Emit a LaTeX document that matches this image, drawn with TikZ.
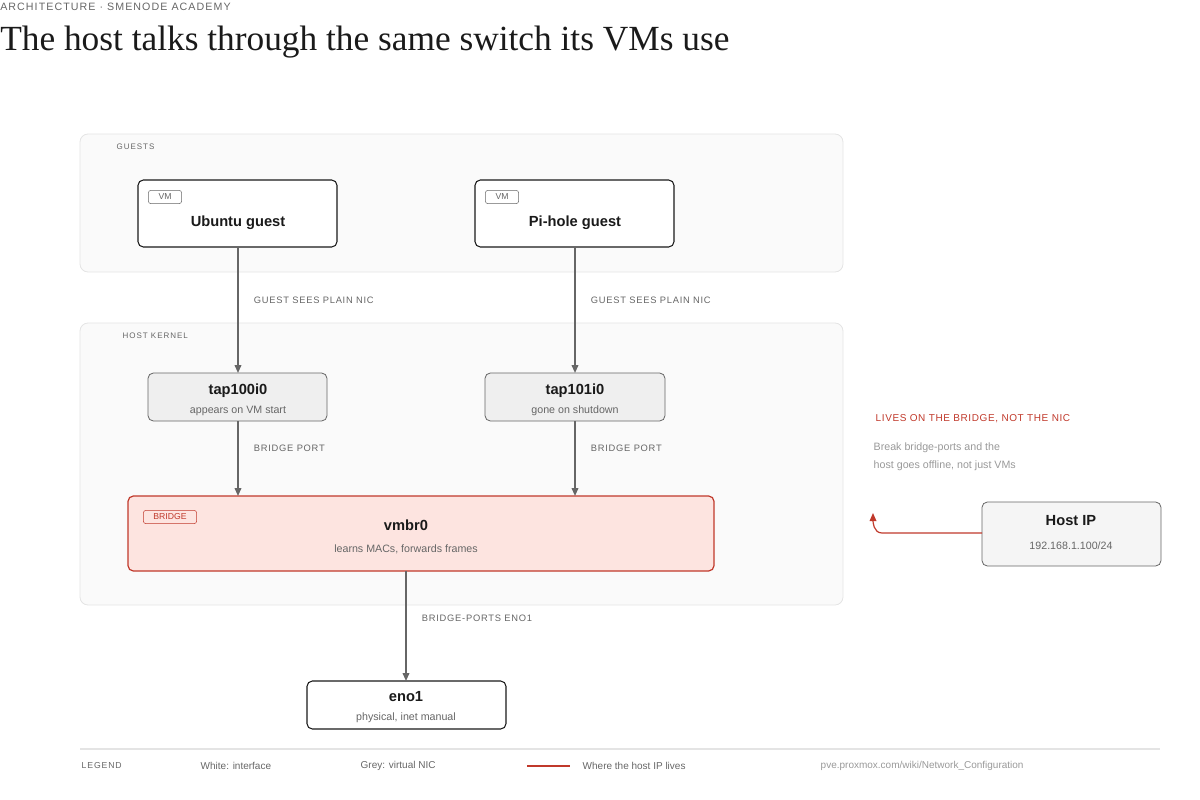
\documentclass[tikz,border=0pt]{standalone}
\usepackage{fontspec}
\setmainfont{Liberation Sans}
\newfontfamily\titlefont{Liberation Serif}
\usetikzlibrary{arrows.meta,positioning}
\definecolor{inkdark}{HTML}{1A1A1A}
\definecolor{inkgrey}{HTML}{666666}
\definecolor{inklight}{HTML}{999999}
\definecolor{panelfill}{HTML}{FAFAFA}
\definecolor{panelline}{HTML}{E4E4E4}
\definecolor{vnicfill}{HTML}{EFEFEF}
\definecolor{bridgefill}{HTML}{FDE4E0}
\definecolor{bridgered}{HTML}{C0392B}
\tikzset{
  panel/.style={draw=panelline,fill=panelfill,rounded corners=6pt,line width=0.6pt},
  iface/.style={draw=inkdark,fill=white,rounded corners=4pt,line width=0.8pt},
  vnic/.style={draw=inkgrey,fill=vnicfill,rounded corners=4pt,line width=0.6pt},
  tag/.style={draw=inkgrey,rounded corners=2pt,inner sep=1.5pt,font=\fontsize{6.5}{7}\selectfont,text=inkgrey,minimum width=25pt,minimum height=10pt},
  caps/.style={font=\fontsize{7}{8}\selectfont\addfontfeatures{LetterSpace=8},text=inkgrey,anchor=west},
  ttl/.style={font=\fontsize{11}{13}\selectfont\bfseries,text=inkdark},
  sub/.style={font=\fontsize{8}{10}\selectfont,text=inkgrey},
  link/.style={draw=inkgrey,line width=1.2pt,-{Triangle[length=6pt,width=5pt]}}
}
\begin{document}
\begin{tikzpicture}[x=0.75pt,y=-0.75pt]
\useasboundingbox (0,0) rectangle (1200,800);
% header
\node[anchor=west,inner sep=0,font=\fontsize{8}{9}\selectfont\addfontfeatures{LetterSpace=10},text=inkgrey] (kicker) at (0,7) {ARCHITECTURE · SMENODE ACADEMY};
\node[anchor=west,inner sep=0,font=\titlefont\fontsize{26.5}{30}\selectfont,text=inkdark] (title) at (0,42) {The host talks through the same switch its VMs use};
% panels
\draw[panel] (80,134) rectangle (843,272);
\node[caps,font=\fontsize{6}{7}\selectfont\addfontfeatures{LetterSpace=12}] (guestslbl) at (112,147) {GUESTS};
\draw[panel] (80,323) rectangle (843,605);
\node[caps,font=\fontsize{6}{7}\selectfont\addfontfeatures{LetterSpace=12}] (kernellbl) at (118,336) {HOST KERNEL};
% guests
\draw[iface] (138,180) rectangle (337,247);
\coordinate (ubuntuB) at (238,247);
\node[tag] (ubuntutag) at (165,197) {VM};
\node[ttl] (ubuntu) at (238,223) {Ubuntu guest};
\draw[iface] (475,180) rectangle (674,247);
\coordinate (piholeB) at (575,247);
\node[tag] (piholetag) at (502,197) {VM};
\node[ttl] (pihole) at (575,223) {Pi-hole guest};
% taps
\draw[vnic] (148,373) rectangle (327,421);
\coordinate (tapaT) at (238,373); \coordinate (tapaB) at (238,421);
\node[ttl] (tapa) at (238,391) {tap100i0};
\node[sub] (tapasub) at (238,411) {appears on VM start};
\draw[vnic] (485,373) rectangle (665,421);
\coordinate (tapbT) at (575,373); \coordinate (tapbB) at (575,421);
\node[ttl] (tapb) at (575,391) {tap101i0};
\node[sub] (tapbsub) at (575,411) {gone on shutdown};
% bridge
\draw[draw=bridgered,fill=bridgefill,rounded corners=4pt,line width=0.9pt] (128,496) rectangle (714,571);
\coordinate (brA) at (238,496); \coordinate (brB) at (575,496); \coordinate (brD) at (406,571);
\node[tag,draw=bridgered,text=bridgered,minimum width=40pt] (brtag) at (170,517) {BRIDGE};
\node[ttl] (vmbr) at (406,525) {vmbr0};
\node[sub] (vmbrsub) at (406,549) {learns MACs, forwards frames};
% uplink
\draw[iface] (307,681) rectangle (506,729);
\coordinate (enoT) at (406,681);
\node[ttl] (eno) at (406,697) {eno1};
\node[sub] (enosub) at (406,718) {physical, inet manual};
% connectors
\draw[link] (ubuntuB) -- node[caps,pos=0.42,right=8pt] {GUEST SEES PLAIN NIC} (tapaT);
\draw[link] (piholeB) -- node[caps,pos=0.42,right=8pt] {GUEST SEES PLAIN NIC} (tapbT);
\draw[link] (tapaB) -- node[caps,pos=0.37,right=8pt] {BRIDGE PORT} (brA);
\draw[link] (tapbB) -- node[caps,pos=0.37,right=8pt] {BRIDGE PORT} (brB);
\draw[link] (brD) -- node[caps,pos=0.43,right=8pt] {BRIDGE-PORTS ENO1} (enoT);
% host ip
\draw[vnic,fill=vnicfill!60] (982,502) rectangle (1161,566);
\coordinate (hostW) at (982,533);
\coordinate (hostTip) at (873,513);
\node[ttl] (hostip) at (1071,521) {Host IP};
\node[sub] (hostsub) at (1071,546) {192.168.1.100/24};
\draw[bridgered,line width=0.9pt,-{Triangle[length=6pt,width=5pt]}] (hostW) -- (882,533) to[out=180,in=270] (hostTip);
\node[caps,text=bridgered,font=\fontsize{7.5}{9}\selectfont\addfontfeatures{LetterSpace=6}] (note) at (871,419) {LIVES ON THE BRIDGE, NOT THE NIC};
\node[anchor=north west,align=left,text=inklight,font=\fontsize{8}{13.5}\selectfont] (notebody) at (869,438) {Break bridge-ports and the\\host goes offline, not just VMs};
% legend
\draw[panelline,line width=0.8pt] (80,749) -- (1160,749);
\node[caps,font=\fontsize{6.5}{7}\selectfont\addfontfeatures{LetterSpace=10}] (legend) at (77,766) {LEGEND};
\node[caps,font=\fontsize{7.5}{9}\selectfont] (lgwhite) at (196,766) {White: interface};
\node[caps,font=\fontsize{7.5}{9}\selectfont] (lggrey) at (356,766) {Grey: virtual NIC};
\coordinate (lgA) at (527,766); \coordinate (lgB) at (570,766);
\draw[bridgered,line width=1.2pt] (lgA) -- (lgB);
\node[caps,font=\fontsize{7.5}{9}\selectfont] (lgred) at (578,766) {Where the host IP lives};
\node[caps,text=inklight,font=\fontsize{7.5}{9}\selectfont] (lgurl) at (816,766) {pve.proxmox.com/wiki/Network\_Configuration};
\end{tikzpicture}
\end{document}
